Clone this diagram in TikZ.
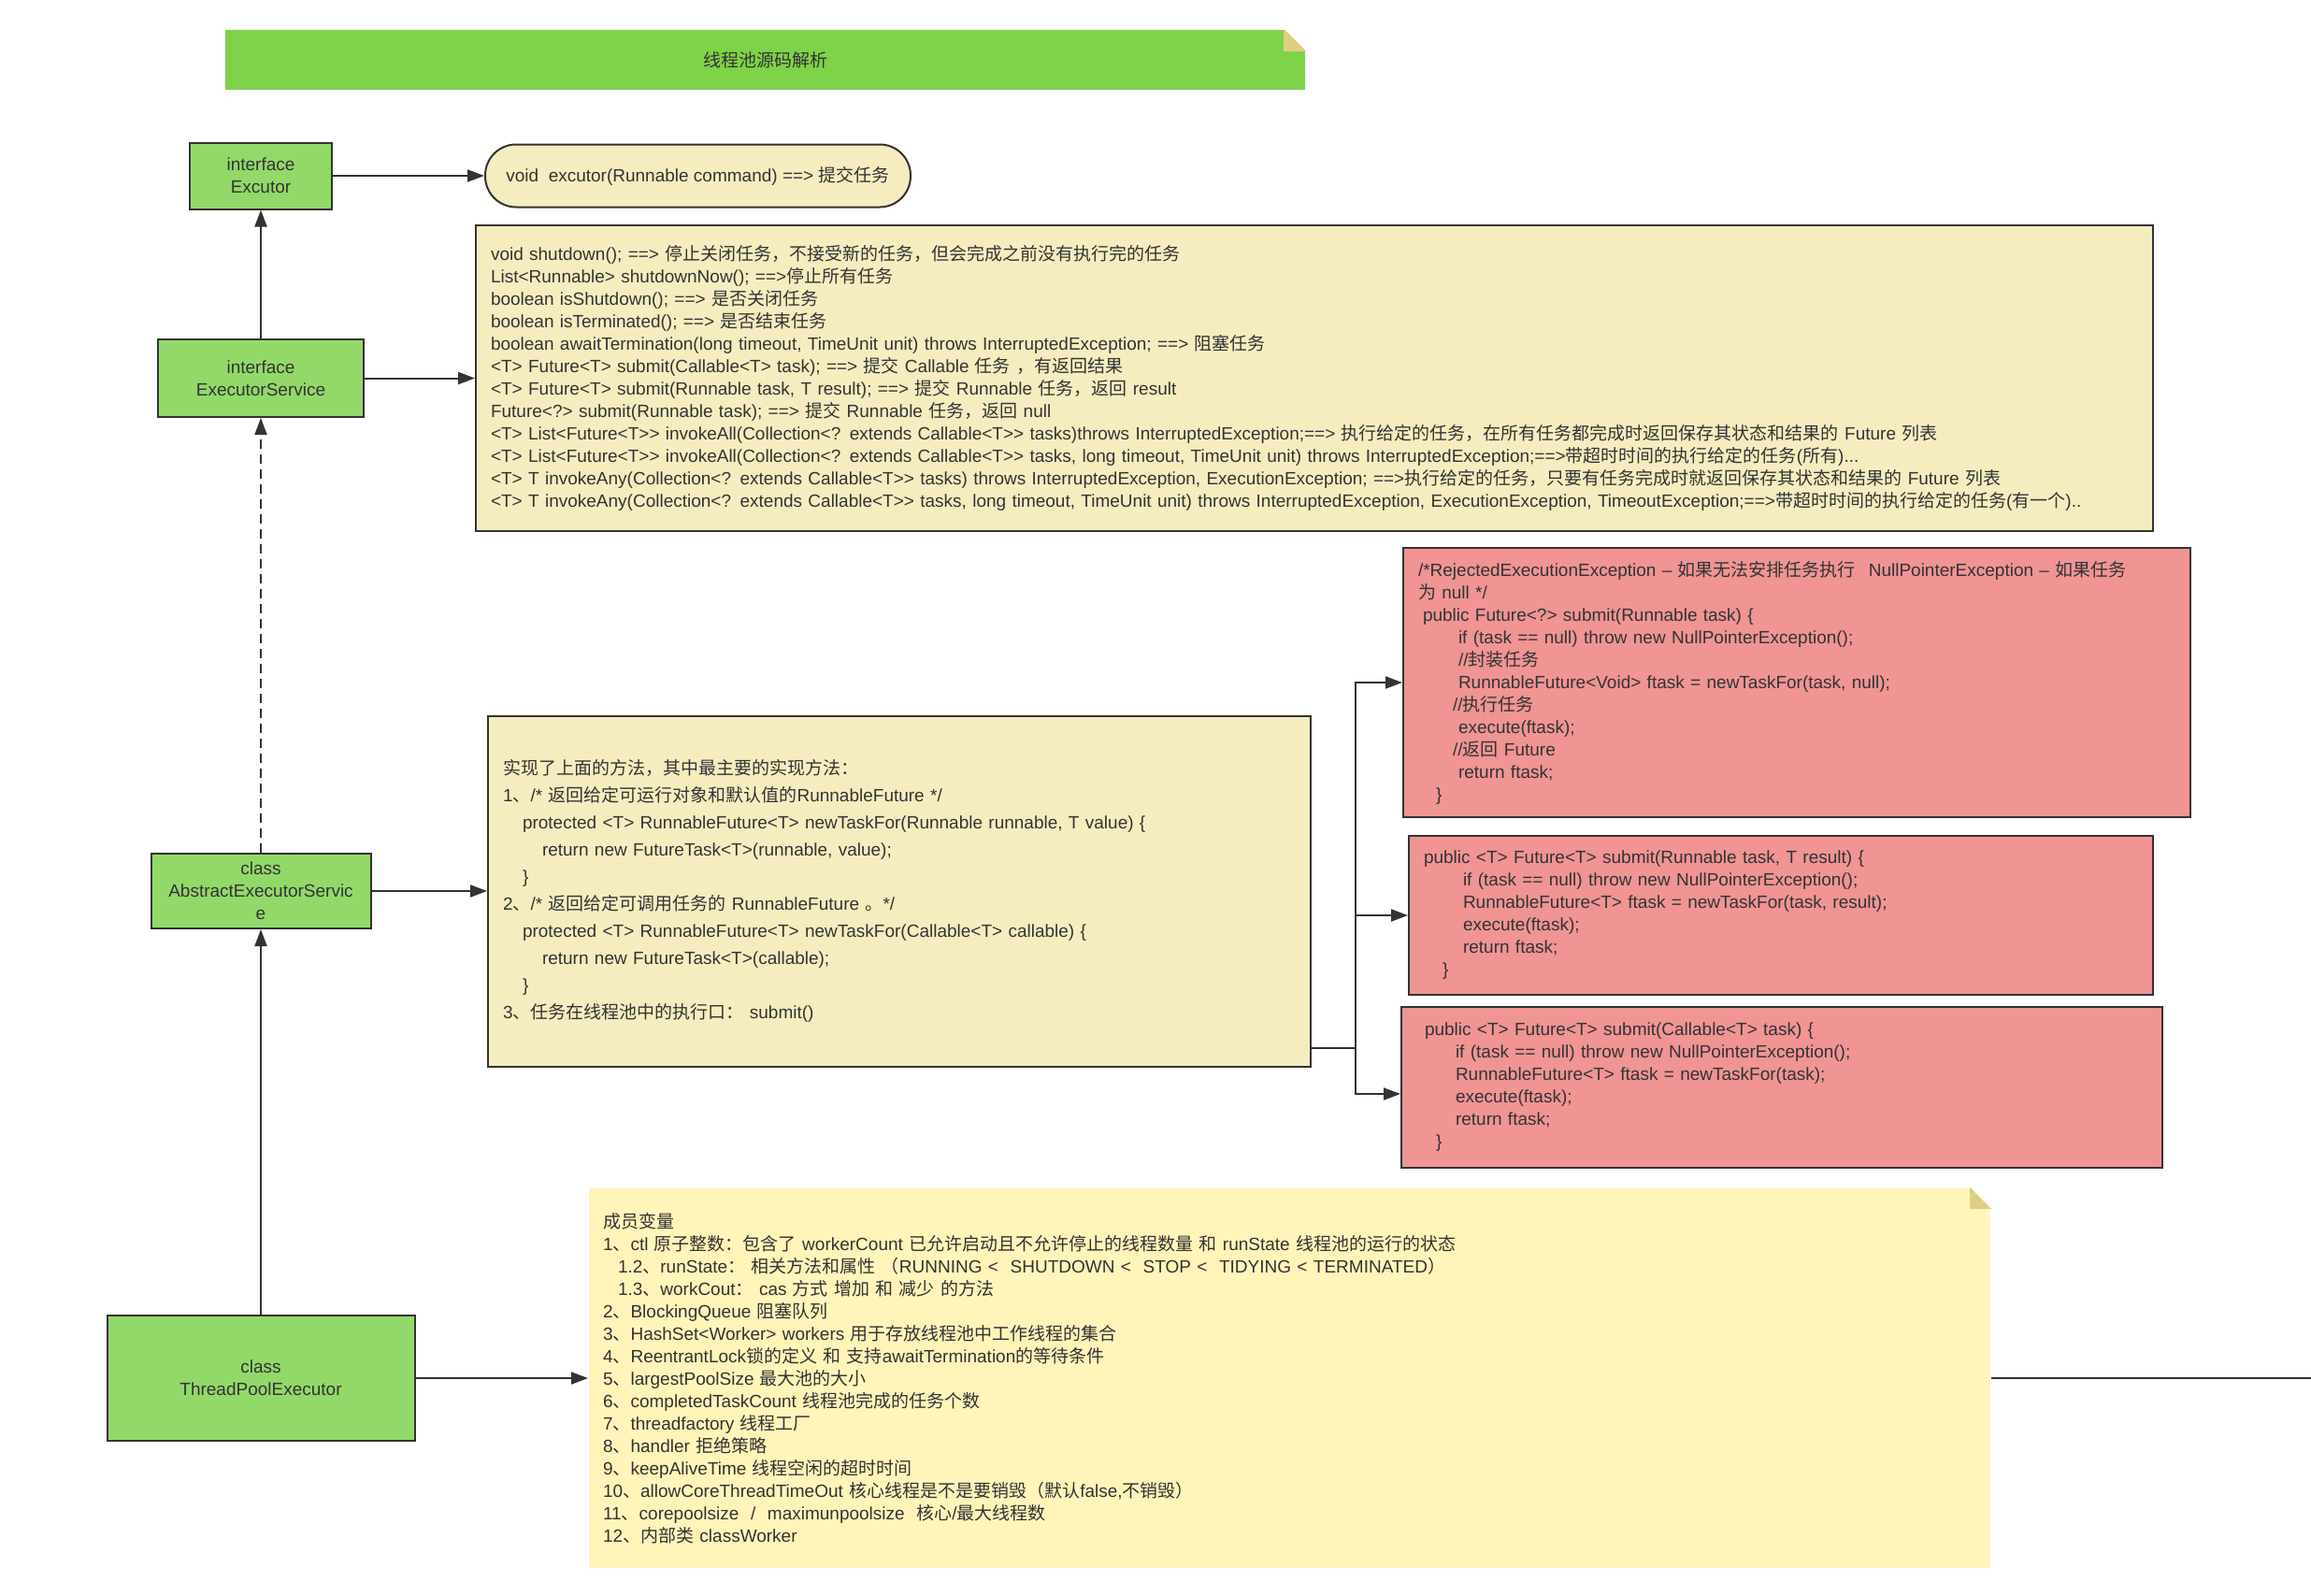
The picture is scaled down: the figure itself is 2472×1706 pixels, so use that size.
\documentclass[tikz,border=0pt]{standalone}
\usepackage{fontspec}
\setmainfont{Liberation Sans}
\newfontfamily\cjkfont{Noto Sans CJK SC}
\newfontfamily\latfont{Liberation Sans}
\usetikzlibrary{arrows.meta}

% chinese characters go to the CJK font
\XeTeXinterchartokenstate=1
\newXeTeXintercharclass\cjkcls
\newcount\cjkcnt
\newcommand\cjkrange[2]{%
  \cjkcnt=#1\relax
  \loop
    \XeTeXcharclass\cjkcnt=\cjkcls
  \ifnum\cjkcnt<#2\relax
    \advance\cjkcnt by 1
  \repeat}
\cjkrange{"3000}{"303F}
\cjkrange{"4E00}{"9FFF}
\cjkrange{"FF00}{"FFEF}
\XeTeXinterchartoks 0 \cjkcls = {\cjkfont}
\XeTeXinterchartoks 4095 \cjkcls = {\cjkfont}
\XeTeXinterchartoks \cjkcls 0 = {\latfont}
\XeTeXinterchartoks \cjkcls 4095 = {\latfont}

\definecolor{linec}{HTML}{333333}
\definecolor{titlegreen}{HTML}{7ED348}
\definecolor{foldc}{HTML}{E0CE85}
\definecolor{boxgreen}{HTML}{92D96A}
\definecolor{notey}{HTML}{F5EDC0}
\definecolor{memoy}{HTML}{FFF5BB}
\definecolor{codered}{HTML}{F09494}

\newcommand\ind[1]{\hspace*{#1pt}}

\begin{document}
\begin{tikzpicture}[x=1pt, y=-1pt,
  base/.style={line width=2pt, text=linec, inner sep=0pt,
    font=\fontsize{19}{24}\selectfont},
  cls/.style={base, draw=linec, fill=boxgreen, align=center},
  note/.style={base, draw=linec, fill=notey, align=left, inner xsep=16pt},
  code/.style={base, draw=linec, fill=codered, align=left, inner xsep=16pt},
  arr/.style={draw=linec, line width=2pt, -{Triangle[length=18pt,width=13pt]}}]

  \fill[white] (0,0) rectangle (2472,1706);
  \useasboundingbox (0,0) rectangle (2472,1706);

  % Title
  \node[base, fill=titlegreen, minimum width=1155pt, minimum height=64pt] (title) at (818.5,64) {线程池源码解析};
  \fill[white] ([xshift=-24pt]title.north east) -- (title.north east) -- ([yshift=-24pt]title.north east) -- cycle;
  \fill[foldc] ([xshift=-24pt]title.north east) -- ([xshift=-24pt,yshift=-24pt]title.north east) -- ([yshift=-24pt]title.north east) -- cycle;

  % Class hierarchy
  \node[cls, minimum width=152pt, minimum height=71pt] (exc) at (279,188) {interface\\Excutor};
  \node[cls, minimum width=220pt, minimum height=83pt] (es) at (279,404.5) {interface\\ExecutorService};
  \node[cls, minimum width=235pt, minimum height=80pt] (aes) at (279,953) {class\\AbstractExecutorServic\\e};
  \node[cls, minimum width=329pt, minimum height=134pt] (tpe) at (279,1474) {class\\ThreadPoolExecutor};

  % Excutor
  \node[base, draw=linec, fill=notey, rounded corners=33pt, minimum width=455pt, minimum height=67pt] (method) at (746.5,188)
    {void\ \ excutor(Runnable command) ==> 提交任务};

  % ExecutorService
  \node[note, text width=1762pt, minimum height=327pt] (esnote) at (1406,404.5) {%
    void shutdown();  ==> 停止关闭任务，不接受新的任务，但会完成之前没有执行完的任务\\
    List<Runnable> shutdownNow();  ==>停止所有任务\\
    boolean isShutdown();  ==> 是否关闭任务\\
    boolean isTerminated(); ==> 是否结束任务\\
    boolean awaitTermination(long timeout, TimeUnit unit) throws InterruptedException;  ==> 阻塞任务\\
    <T> Future<T> submit(Callable<T> task);  ==> 提交  Callable 任务 ，有返回结果\\
    <T> Future<T> submit(Runnable task, T result); ==> 提交  Runnable 任务，返回 result\\
    Future<?> submit(Runnable task);  ==> 提交  Runnable 任务，返回 null\\
    <T> List<Future<T>> invokeAll(Collection<? extends Callable<T>> tasks)throws InterruptedException;==> 执行给定的任务，在所有任务都完成时返回保存其状态和结果的 Future 列表\\
    <T> List<Future<T>> invokeAll(Collection<? extends Callable<T>> tasks, long timeout, TimeUnit unit) throws InterruptedException;==>带超时时间的执行给定的任务(所有)...\\
    <T> T invokeAny(Collection<? extends Callable<T>> tasks) throws InterruptedException, ExecutionException; ==>执行给定的任务，只要有任务完成时就返回保存其状态和结果的 Future 列表\\
    <T> T invokeAny(Collection<? extends Callable<T>> tasks, long timeout, TimeUnit unit) throws InterruptedException, ExecutionException, TimeoutException;==>带超时时间的执行给定的任务(有一个)..};

  % AbstractExecutorService
  \node[note, text width=848pt, minimum height=375pt, font=\fontsize{19}{29}\selectfont] (aesnote) at (962,953) {%
    实现了上面的方法，其中最主要的实现方法：\\
    1、/* 返回给定可运行对象和默认值的RunnableFuture  */\\
    \ind{21}protected <T> RunnableFuture<T> newTaskFor(Runnable runnable, T value) \{\\
    \ind{42}return new FutureTask<T>(runnable, value);\\
    \ind{21}\}\\
    2、/* 返回给定可调用任务的 RunnableFuture 。*/\\
    \ind{21}protected <T> RunnableFuture<T> newTaskFor(Callable<T> callable) \{\\
    \ind{42}return new FutureTask<T>(callable);\\
    \ind{21}\}\\
    3、任务在线程池中的执行口：  submit()};

  % submit()
  \node[code, text width=810pt, minimum height=288pt] (red1) at (1922,730) {%
    /*RejectedExecutionException – 如果无法安排任务执行\hspace{14pt}NullPointerException – 如果任务\\
    为 null */\\
    \ind{5}public Future<?> submit(Runnable task) \{\\
    \ind{43}if (task == null) throw new NullPointerException();\\
    \ind{43}//封装任务\\
    \ind{43}RunnableFuture<Void> ftask = newTaskFor(task, null);\\
    \ind{37}//执行任务\\
    \ind{43}execute(ftask);\\
    \ind{37}//返回 Future\\
    \ind{43}return ftask;\\
    \ind{19}\}};
  \node[code, text width=764pt, minimum height=170pt] (red2) at (1905,979) {%
    public <T> Future<T> submit(Runnable task, T result) \{\\
    \ind{42}if (task == null) throw new NullPointerException();\\
    \ind{42}RunnableFuture<T> ftask = newTaskFor(task, result);\\
    \ind{42}execute(ftask);\\
    \ind{42}return ftask;\\
    \ind{20}\}};
  \node[code, inner xsep=25pt, text width=764pt, minimum height=172pt] (red3) at (1906,1163) {%
    public <T> Future<T> submit(Callable<T> task) \{\\
    \ind{33}if (task == null) throw new NullPointerException();\\
    \ind{33}RunnableFuture<T> ftask = newTaskFor(task);\\
    \ind{33}execute(ftask);\\
    \ind{33}return ftask;\\
    \ind{12}\}};

  % ThreadPoolExecutor
  \node[base, fill=memoy, align=left, inner xsep=15pt, text width=1469pt, minimum height=406pt] (memo) at (1379.5,1474) {%
    成员变量\\
    1、ctl 原子整数：包含了 workerCount 已允许启动且不允许停止的线程数量 和 runState 线程池的运行的状态\\
    \ind{16}1.2、runState：  相关方法和属性  （RUNNING <\ \ SHUTDOWN <\ \ STOP <\ \ TIDYING < TERMINATED）\\
    \ind{16}1.3、workCout：  cas 方式 增加 和 减少 的方法\\
    2、BlockingQueue 阻塞队列\\
    3、HashSet<Worker> workers 用于存放线程池中工作线程的集合\\
    4、ReentrantLock锁的定义 和  支持awaitTermination的等待条件\\
    5、largestPoolSize 最大池的大小\\
    6、completedTaskCount 线程池完成的任务个数\\
    7、threadfactory 线程工厂\\
    8、handler 拒绝策略\\
    9、keepAliveTime 线程空闲的超时时间\\
    10、allowCoreThreadTimeOut 核心线程是不是要销毁（默认false,不销毁）\\
    11、corepoolsize\ \ /\ \ maximunpoolsize\ \ 核心/最大线程数\\
    12、内部类 classWorker};
  \fill[white] ([xshift=-23pt]memo.north east) -- (memo.north east) -- ([yshift=-23pt]memo.north east) -- cycle;
  \fill[foldc] ([xshift=-23pt]memo.north east) -- ([xshift=-23pt,yshift=-23pt]memo.north east) -- ([yshift=-23pt]memo.north east) -- cycle;

  % Connectors
  \coordinate (fork) at (1450,1121);
  \coordinate (edge) at (2472,1474);
  \draw[arr] (es) -- (exc);
  \draw[arr, dash pattern=on 10pt off 6pt] (aes) -- (es);
  \draw[arr] (tpe) -- (aes);
  \draw[arr] (exc) -- (method);
  \draw[arr] (es) -- (esnote);
  \draw[arr] (aes) -- (aesnote);
  \draw[arr] (tpe) -- (memo);
  \draw[arr] (aesnote.east |- fork) -- (fork) |- (red1.west);
  \draw[arr] (fork) |- (red2.west);
  \draw[arr] (fork) |- ([yshift=-7pt]red3.west);
  \draw[draw=linec, line width=2pt] (memo.east) -- (edge);
\end{tikzpicture}
\end{document}
